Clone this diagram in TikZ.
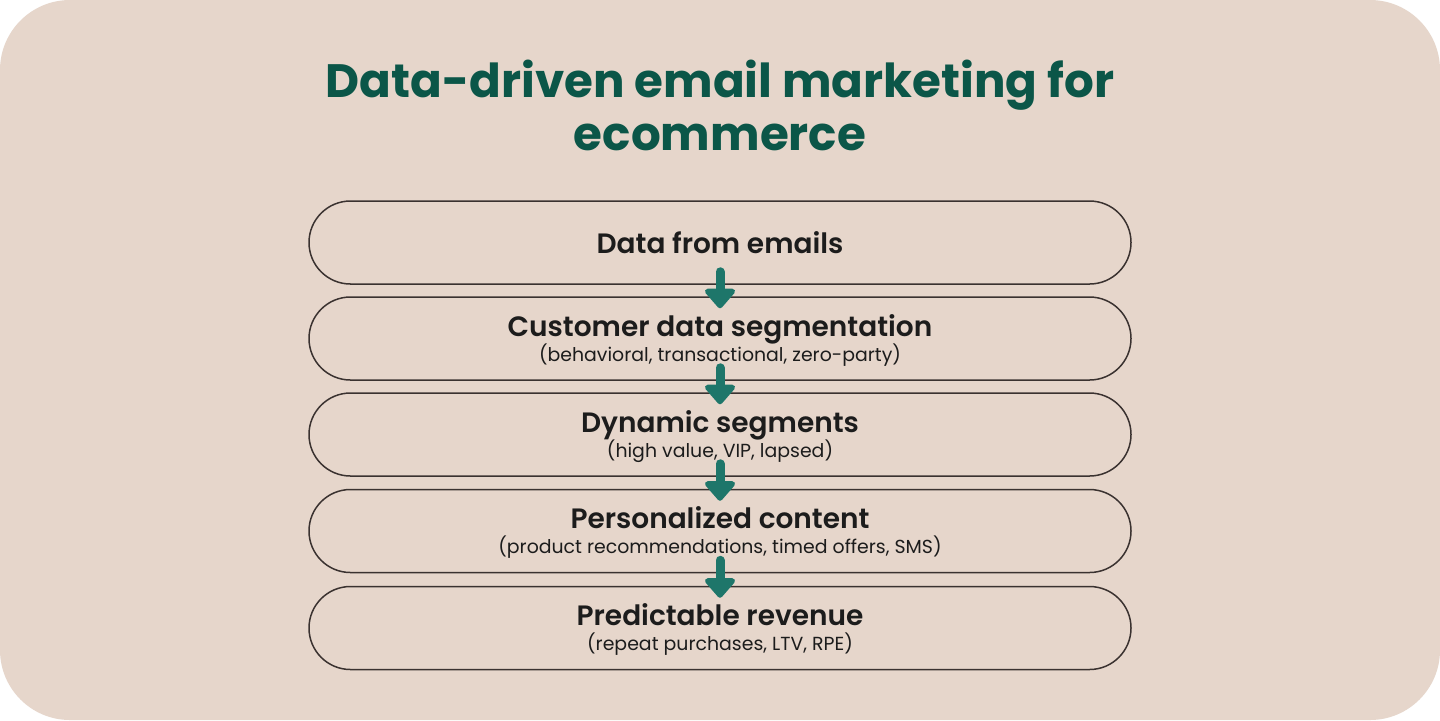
\documentclass[tikz,border=0pt]{standalone}
\usepackage{fontspec}
\setmainfont{Poppins}
\newfontfamily\semifont{Poppins SemiBold}
\usetikzlibrary{arrows.meta, positioning}
\definecolor{bgcolor}{RGB}{230, 214, 203}
\definecolor{titlecolor}{RGB}{11, 86, 72}
\definecolor{arrowcolor}{RGB}{30, 118, 106}
\definecolor{textcolor}{RGB}{28, 28, 28}
\definecolor{linecolor}{RGB}{58, 50, 48}

\begin{document}
\begin{tikzpicture}[
    x=0.5pt, y=-0.5pt,
    stage/.style={draw=linecolor, line width=0.75pt, rounded corners=20.75pt, minimum width=411pt, minimum height=41.5pt},
    head/.style={anchor=base, text=textcolor, font=\semifont\fontsize{14}{17}\selectfont, inner sep=0pt},
    sub/.style={anchor=base, text=textcolor, font=\fontsize{9.45}{12}\selectfont, inner sep=0pt},
    flow/.style={draw=arrowcolor, line width=4.5pt, line cap=round, -{Triangle[round, width=17.5pt, length=10.5pt]}}
]
    % Background
    \fill[white] (0,0) rectangle (1440,720);
    \fill[bgcolor, rounded corners=35pt] (0,0) rectangle (1440,720);
    \useasboundingbox (0,0) rectangle (1440,720);

    % Title
    \node[align=center, text=titlecolor, font=\bfseries\fontsize{23.4}{26.8}\selectfont] (title) at (720,105.5) {Data-driven email marketing for\\ecommerce};

    % Stages
    \node[stage] (s1) at (720,242.5) {};
    \node[stage] (s2) at (720,338.5) {};
    \node[stage] (s3) at (720,434.5) {};
    \node[stage] (s4) at (720,531) {};
    \node[stage] (s5) at (720,628) {};

    % Labels
    \node[head] (h1) at (720,253) {Data from emails};
    \node[head] (h2) at (720,336) {Customer data segmentation};
    \node[sub] (d2) at (720,361) {(behavioral, transactional, zero-party)};
    \node[head] (h3) at (720,432) {Dynamic segments};
    \node[sub] (d3) at (720,457) {(high value, VIP, lapsed)};
    \node[head] (h4) at (720,528.5) {Personalized content};
    \node[sub] (d4) at (720,553.5) {(product recommendations, timed offers, SMS)};
    \node[head] (h5) at (720,625.5) {Predictable revenue};
    \node[sub] (d5) at (720,650.5) {(repeat purchases, LTV, RPE)};

    % Connections
    \draw[flow] ([yshift=6.5pt]s1.south) -- ([yshift=-6pt]s2.north);
    \draw[flow] ([yshift=6.5pt]s2.south) -- ([yshift=-6pt]s3.north);
    \draw[flow] ([yshift=6.5pt]s3.south) -- ([yshift=-6pt]s4.north);
    \draw[flow] ([yshift=6.5pt]s4.south) -- ([yshift=-6pt]s5.north);

\end{tikzpicture}
\end{document}
